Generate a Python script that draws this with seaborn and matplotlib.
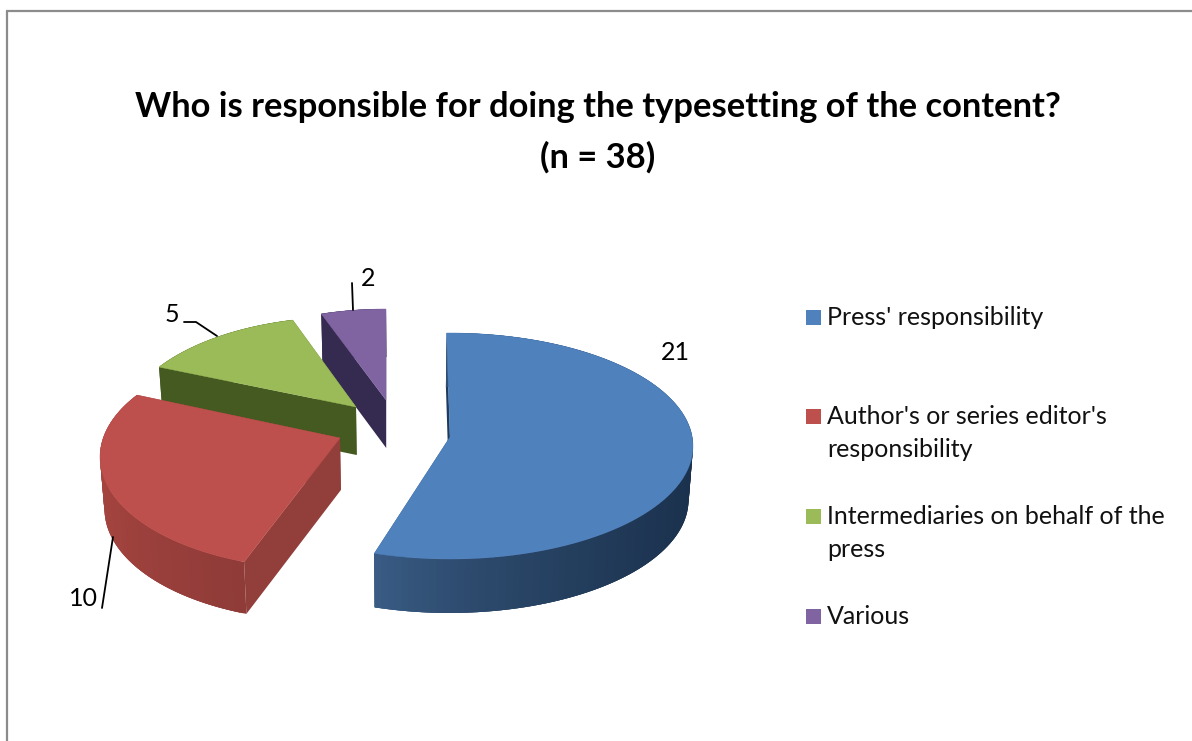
import numpy as np
import matplotlib
matplotlib.use("Agg")
import matplotlib.pyplot as plt
import matplotlib.colors as mcolors
from matplotlib.patches import Rectangle
import seaborn as sns

# DATA
labels = ["Press' responsibility", "Author's or series editor's\nresponsibility",
          "Intermediaries on behalf of the\npress", "Various"]
values = [21, 10, 5, 2]
title_lines = ["Who is responsible for doing the typesetting of the content?", "(n = 38)"]

# PIE PLACEMENT (pixels), one entry per slice: exploded 3d look
centers = [(450, 446), (322, 457), (344, 429), (386, 421)]
apexes = [(450, 437), (340, 438), (356, 407), (386, 400)]
radii = [(243, 113), (222, 112), (222, 112), (222, 112)]
depths = [54, 52, 48, 48]
# the perspective moves the slice edges a bit away from the true angle
start_fix = [-0.8, 1.6, 9.9, 2.0]
end_fix = [-0.8, 9.9, 5.6, 0.0]
vanish_x = 400
taper = 0.015

# COLOURS
top_colors = ["#4f81bd", "#bd4f4c", "#9bbb59", "#8064a2"]
face_colors = ["#1f3a5c", "#923e3a", "#445a20", "#352a4f"]
rim_left = ["#3c5f88", "#a5443f", "#445a20", "#352a4f"]
rim_right = ["#1b324e", "#8f3b38", "#445a20", "#352a4f"]

# LABEL AND LEGEND PLACEMENT (pixels)
value_pos = [(675, 353), (83, 599), (172, 315), (368, 279)]
leaders = [None,
           [(102, 608), (113, 537)],
           [(184, 322), (196, 322), (217, 336)],
           [(352, 283), (353, 310)]]
legend_y = [317, 416, 516, 616]
title_y = [117, 168]

sns.set_theme(style="white")
plt.rcParams['font.family'] = ['Lato', 'DejaVu Sans']

fig = plt.figure(figsize=(11.92, 7.41), dpi=100)
ax = fig.add_axes([0, 0, 1, 1])
ax.set_xlim(0, 1192)
ax.set_ylim(741, 0)
ax.axis('off')


def rim(i, theta):
    cx, cy = centers[i]
    a, b = radii[i]
    return cx + a * np.sin(theta), cy - b * np.cos(theta)


def drop(i, x, y):
    # bottom of the slice: moved down and pulled slightly to the vanishing point
    return x + (vanish_x - x) * taper, y + depths[i]


# slice angles come from the values
edges = np.cumsum([0] + values) / sum(values) * 360

# back to front, so nearer slices cover the others
for i in [3, 2, 1, 0]:
    t0 = np.radians(edges[i] + start_fix[i])
    t1 = np.radians(edges[i + 1] + end_fix[i])
    thetas = np.linspace(t0, t1, 120)
    xs, ys = rim(i, thetas)
    ax_, ay_ = apexes[i]

    # flat side faces
    for ex, ey in [(xs[0], ys[0]), (xs[-1], ys[-1])]:
        bx1, by1 = drop(i, ex, ey)
        bx2, by2 = drop(i, ax_, ay_)
        ax.fill([ex, ax_, bx2, bx1], [ey, ay_, by2, by1],
                color=face_colors[i], lw=0)

    # curved side, shaded by screen position; strips overlap so no seams show
    left = np.array(mcolors.to_rgb(rim_left[i]))
    right = np.array(mcolors.to_rgb(rim_right[i]))
    for k in range(len(thetas) - 1):
        k2 = min(k + 3, len(thetas) - 1)
        bx1, by1 = drop(i, xs[k], ys[k])
        bx2, by2 = drop(i, xs[k2], ys[k2])
        f = (xs[k] - xs.min()) / (xs.max() - xs.min())
        c = left + (right - left) * f ** 0.7
        ax.fill([xs[k], xs[k2], bx2, bx1], [ys[k], ys[k2], by2, by1],
                color=c, lw=0)

    # top surface
    ax.fill(np.r_[ax_, xs], np.r_[ay_, ys], color=top_colors[i], lw=0.3)

# VALUE LABELS
for val, (tx, ty), line in zip(values, value_pos, leaders):
    ax.text(tx, ty, str(val), fontsize=18, color="black", ha='center', va='center')
    if line is not None:
        ax.plot([p[0] for p in line], [p[1] for p in line], color="black", lw=1.3)

# LEGEND
for lab, col, ly in zip(labels, top_colors, legend_y):
    ax.add_patch(Rectangle((806, ly - 7.5), 15, 15, color=col, lw=0))
    ax.text(827, ly - 11, lab, fontsize=18, color="#111111", ha='left', va='top',
            linespacing=1.55)

# TITLE
for line, ty in zip(title_lines, title_y):
    ax.text(598, ty, line, fontsize=24.8, fontweight='bold', color="black",
            ha='center', va='baseline')

# OUTER FRAME
ax.plot([7, 7], [741, 11], color="#8c8c8c", lw=1.6)
ax.plot([7, 1192], [11, 11], color="#8c8c8c", lw=1.6)

fig.savefig("out.png", dpi=100)
